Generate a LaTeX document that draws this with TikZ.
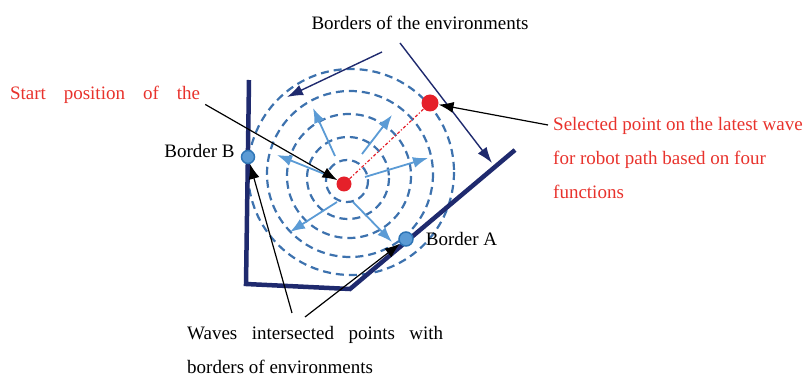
\documentclass[tikz,border=0pt]{standalone}
\usepackage{fontspec}
\setmainfont{Liberation Serif}
\usepackage{tikz}
\usetikzlibrary{positioning, arrows.meta}

\definecolor{navy}{HTML}{1F2A6E}
\definecolor{ringblue}{HTML}{3D72AE}
\definecolor{rayblue}{HTML}{5B9BD5}
\definecolor{ptred}{HTML}{E5202A}
\definecolor{txtred}{HTML}{E8322C}
\definecolor{hitrim}{HTML}{2E75B6}

\begin{document}
\begin{tikzpicture}[
  x=1pt, y=-1pt,
  font=\fontsize{19}{34}\selectfont,
  wall/.style={draw=navy, line width=4.5pt},
  wave/.style={draw=ringblue, line width=2.2pt, dash pattern=on 8pt off 5pt},
  ray/.style={draw=rayblue, line width=1.8pt, -{Latex[length=15pt, width=11pt]}},
  ar/.style={draw=black, line width=1.2pt, -{Latex[length=15pt, width=11pt]}},
  bd/.style={draw=navy, line width=1.4pt, -{Latex[length=16pt, width=11pt]}},
  dot/.style={circle, fill=ptred, inner sep=0pt, minimum size=#1},
  hit/.style={circle, fill=rayblue, draw=hitrim, line width=1.5pt, inner sep=0pt,
              minimum size=13pt},
  lbl/.style={inner sep=1pt}
]
\useasboundingbox (0,0) rectangle (807,379);

% waves
\foreach \r/\cx/\cy in {21/347/181, 41/348/178, 62/349/176, 83/350/174, 103/351/172}
  \draw[wave] (\cx,\cy) circle[radius=\r];

% borders of the environment
\coordinate (wtop) at (249,80);
\coordinate (wbl) at (246,284);
\coordinate (wbr) at (350,289);
\coordinate (wend) at (515,150);
\draw[wall] (wtop) -- (wbl) -- (wbr) -- (wend);

% rays from the start point
\foreach \i/\sx/\sy/\ex/\ey in {1/335/156/313/108, 2/362/154/392/115,
    3/365/177/428/158, 4/327/175/277/155, 5/337/202/290/232, 6/353/202/392/242} {
  \coordinate (ray\i s) at (\sx,\sy);
  \coordinate (ray\i e) at (\ex,\ey);
  \draw[ray] (ray\i s) -- (ray\i e);
}

\node[dot=15pt] (start) at (344,184) {};
\node[dot=17pt] (sel) at (430,103) {};
\draw[ptred, line width=1.2pt, dash dot] (start) -- (sel);

\node[hit] (bB) at (248,157) {};
\node[hit, minimum size=14pt] (bA) at (406,239) {};
\node[lbl, left=5pt of bB, yshift=6pt] (bBlbl) {Border B};
\node[lbl, right=11pt of bA] (bAlbl) {Border A};

% labels
\node[lbl] (bdlbl) at (420,23) {Borders of the environments};
\coordinate (bdfootL) at (382,52);
\coordinate (bdtipL) at (287,97);
\coordinate (bdfootR) at (400,43);
\coordinate (bdtipR) at (492,163);
\draw[bd] (bdfootL) -- (bdtipL);
\draw[bd] (bdfootR) -- (bdtipR);

\node[lbl, text=txtred] (stlbl) at (105,94.5)
  {\makebox[190pt][s]{Start position of the}};
\draw[ar] ([xshift=4pt]stlbl.south east) -- (start);

\node[lbl, text=txtred, align=left, anchor=north west] (sellbl) at (552,116)
  {Selected point on the latest wave\\for robot path based on four\\functions};
\coordinate (selfoot) at (548,125);
\draw[ar] (selfoot) -- (sel);

\node[lbl, align=left, anchor=north west] (wvlbl) at (186,325)
  {\makebox[256pt][s]{Waves intersected points with}\\borders of environments};
\coordinate (wvfootB) at (292,313);
\coordinate (wvfootA) at (305,317);
\draw[ar] (wvfootB) -- (bB);
\draw[ar] (wvfootA) -- (bA);
\end{tikzpicture}
\end{document}
